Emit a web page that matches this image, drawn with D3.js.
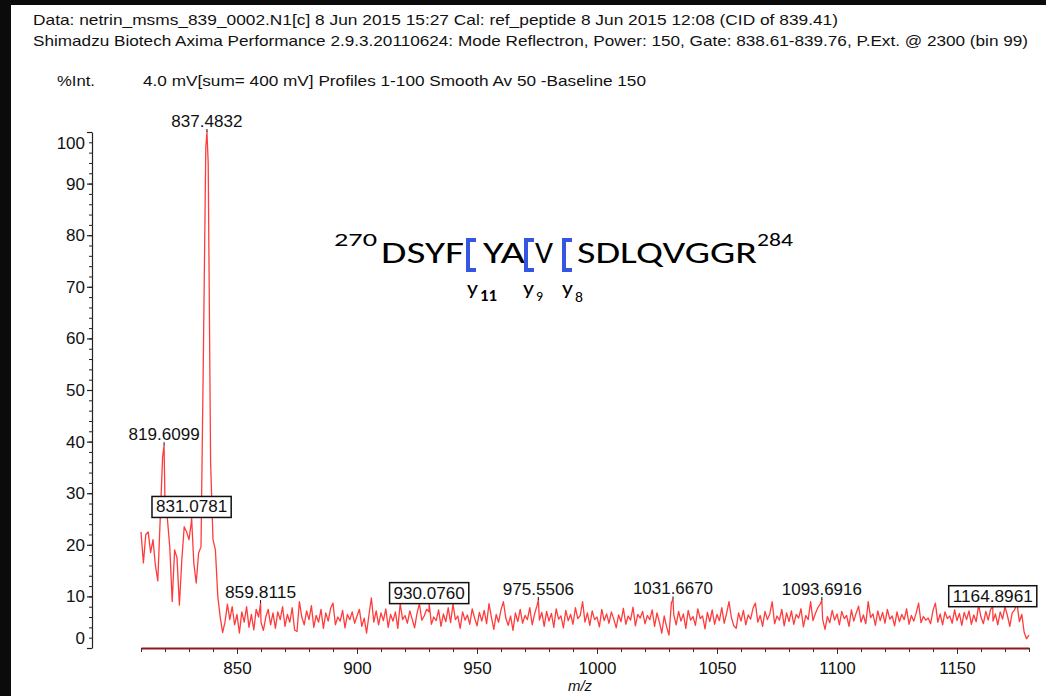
<!DOCTYPE html>
<html>
<head>
<meta charset="utf-8">
<script src="https://cdn.jsdelivr.net/npm/d3@7"></script>
<style>
  html, body { margin: 0; padding: 0; background: #fff; }
  svg { display: block; }
  text { font-family: "Liberation Sans", Arial, sans-serif; fill: #111; }
  .hdr { font-family: "Liberation Sans Narrow", "Liberation Sans", Arial, sans-serif; font-size: 15px; }
  .pep { font-family: Carlito, Lato, "Open Sans", sans-serif; fill: #000; }
</style>
</head>
<body>
<svg id="chart" width="1046" height="696"></svg>
<script>
// Profile spectrum: intensity (%Int.) sampled every 1 m/z from 810 to 1180
const mzStart = 810;
const mzStep = 1;
const intensity = [
  22.5, 16.5, 22, 22.5, 18.5, 21, 16, 13, 25, 37,          // 810-819
  28, 25, 19.5, 9, 19, 17.5, 8.3, 17, 23.5, 22.5,          // 820-829
  21, 24.5, 16.5, 12.6, 18.4, 19.6, 57, 97, 94, 36,        // 830-839
  21, 19, 10, 6, 3, 5, 8.5, 5.5, 8, 4.5,                   // 840-849
  6.5, 2.9, 7, 5, 8, 4, 6.5, 3.5, 7.5, 6,                  // 850-859
  5, 3.4, 6, 7.5, 4.5, 6.8, 3.8, 7, 5.5, 8,                // 860-869
  4.2, 6.5, 5, 7.8, 3.5, 3.2, 9, 6, 4.5, 7.2,              // 870-879
  5.5, 8.2, 4, 6.3, 5, 7.5, 3.8, 6.8, 5.2, 7.7,            // 880-889
  8.7, 4.5, 6, 5.2, 7.3, 3.9, 6.5, 5.5, 7, 4.8,            // 890-899
  6.2, 7.5, 4.2, 5.8, 2.9, 6.5, 9.7, 5, 7.2, 4.5,          // 900-909
  6.8, 5.3, 7.6, 4, 6.5, 5.2, 7, 3.8, 8.6, 5.5,            // 910-919
  6.3, 4.8, 7.2, 5.6, 3.9, 6.7, 8.6, 5.4, 6.2, 7.5,        // 920-929
  7, 4.6, 6, 5.3, 7.4, 4.2, 6.6, 5.1, 7.8, 4.9,            // 930-939
  8.5, 5.5, 6.2, 3.8, 7, 5.4, 6.4, 4.6, 7.6, 5.8,          // 940-949
  4.3, 6.9, 5.2, 7.3, 4.7, 8.6, 6, 3.6, 6.5, 5,            // 950-959
  7.4, 9, 5.8, 4.4, 6.2, 3.4, 6.8, 5.1, 7.5, 4.8,          // 960-969
  6.3, 5.5, 7.8, 4.5, 6.6, 8.2, 5.4, 6.9, 4.2, 7.1,        // 970-979
  5.2, 6.7, 4, 7.6, 5.6, 6.2, 3.9, 7.3, 5.3, 6.5,          // 980-989
  4.6, 7.8, 5.7, 6.3, 9, 5, 6.8, 4.4, 7.2, 5.5,            // 990-999
  6, 4.1, 7.5, 5.3, 6.6, 4.8, 7, 5.6, 3.9, 6.4,            // 1000-1009
  5.1, 7.7, 4.6, 6.2, 5.4, 7.9, 4.3, 6.5, 5.8, 7.1,        // 1010-1019
  4.7, 6.3, 5.5, 7.4, 4.2, 6.8, 5, 2.9, 6.2, 4.1,          // 1020-1029
  2.5, 8.8, 6.4, 4.5, 7.1, 5.2, 6.6, 3.8, 7.3, 5.4,        // 1030-1039
  6.1, 4.4, 7.6, 5.7, 6.2, 3.7, 6.9, 5.1, 7.4, 4.6,        // 1040-1049
  6.5, 5.3, 7.8, 4.8, 6.7, 9, 5.9, 4.3, 3.8, 6.8,          // 1050-1059
  5.2, 7.3, 4.5, 6.4, 5.6, 7.7, 8.7, 5, 6.3, 4.2,          // 1060-1069
  7.1, 5.5, 6.6, 9, 4.7, 6.2, 5.4, 7.5, 4.3, 6.8,          // 1070-1079
  5.1, 7.2, 4.6, 6.5, 5.8, 7.6, 4.1, 6.3, 5.5, 9,          // 1080-1089
  5.3, 6.7, 7.8, 8.5, 5.6, 3.6, 6.1, 4.9, 7.3, 5.4,        // 1090-1099
  6.6, 4.5, 7.1, 5.7, 6.3, 4.2, 7.4, 5.2, 6.8, 8.1,        // 1100-1109
  5, 6.4, 4.7, 9, 5.9, 6.6, 4.4, 7.2, 5.3, 6.9,            // 1110-1119
  4.8, 7.5, 5.6, 6.2, 4.3, 7, 5.1, 6.5, 5.5, 7.6,          // 1120-1129
  4.6, 6.3, 5.2, 6.8, 8.7, 4.9, 6.1, 5.4, 5.8, 4.7,        // 1130-1139
  7.3, 8.7, 5, 6.6, 4.5, 7, 5.7, 6.2, 4.8, 7.4,            // 1140-1149
  5.3, 6.7, 4.4, 6.9, 5.5, 7.2, 4.6, 6.4, 5.1, 8.3,        // 1150-1159
  6, 4.7, 7.1, 5.4, 7.5, 5.2, 6.6, 4.5, 7, 5.6,            // 1160-1169
  8, 6.3, 4.2, 6.8, 7.4, 8.7, 5.1, 6.5, 3, 1.8,            // 1170-1179
  2.5                                                      // 1180
];

// Labelled peak apexes (m/z, %Int.) and whether the label is framed
const peakMz  = [819.6099, 831.0781, 837.4832, 859.8115, 930.0760, 975.5506, 1031.6670, 1093.6916, 1164.8961];
const peakInt = [39.3, 25.3, 100, 8.7, 8.6, 9.3, 9.4, 9.3, 8.0];
const peakBoxed = [false, true, false, false, true, false, false, false, true];

// Axis ticks
const xMajorTicks = [850, 900, 950, 1000, 1050, 1100, 1150];
const yMajorTicks = [0, 10, 20, 30, 40, 50, 60, 70, 80, 90, 100];

// Header lines
const headerLines = [
  "Data: netrin_msms_839_0002.N1[c] 8 Jun 2015 15:27 Cal: ref_peptide 8 Jun 2015 12:08 (CID of  839.41)",
  "Shimadzu Biotech Axima Performance 2.9.3.20110624: Mode Reflectron, Power: 150, Gate: 838.61-839.76, P.Ext. @ 2300 (bin 99)"
];
const yTitle = "%Int.";
const acqInfo = "4.0 mV[sum= 400 mV]  Profiles 1-100 Smooth Av 50 -Baseline 150";
const xTitle = "m/z";

const svg = d3.select("#chart");

// page frame edges (dark left bar, thin top rule)
svg.append("rect").attr("x", 0).attr("y", 0).attr("width", 1046).attr("height", 5)
  .attr("fill", "#0b0b0b");
svg.append("rect").attr("x", 0).attr("y", 0).attr("width", 11).attr("height", 696)
  .attr("fill", "#0b0b0b");

// header
svg.append("text").attr("class", "hdr").attr("x", 33).attr("y", 25)
  .attr("textLength", 805).attr("lengthAdjust", "spacingAndGlyphs").text(headerLines[0]);
svg.append("text").attr("class", "hdr").attr("x", 33).attr("y", 46)
  .attr("textLength", 995).attr("lengthAdjust", "spacingAndGlyphs").text(headerLines[1]);
svg.append("text").attr("class", "hdr").attr("x", 57).attr("y", 86)
  .attr("textLength", 38).attr("lengthAdjust", "spacingAndGlyphs").text(yTitle);
svg.append("text").attr("class", "hdr").attr("x", 143).attr("y", 86)
  .attr("textLength", 503).attr("lengthAdjust", "spacingAndGlyphs").text(acqInfo);

// scales
const x = d3.scaleLinear().domain([810, 1180]).range([141, 1029]);
const y = d3.scaleLinear().domain([0, 100]).range([648, 132]);

// y axis (offset to the left of the x axis start)
const yAxisX = 92;
const yMinor = svg.append("g").attr("transform", `translate(${yAxisX},0)`)
  .call(d3.axisLeft(y).tickValues(d3.range(0, 101, 2)).tickSize(3).tickFormat(""));
yMinor.select(".domain").remove();
yMinor.selectAll("line").attr("stroke", "#222");
const yMajor = svg.append("g").attr("transform", `translate(${yAxisX},0)`)
  .call(d3.axisLeft(y).tickValues(yMajorTicks).tickSize(5).tickSizeOuter(0).tickPadding(2));
yMajor.select(".domain").attr("stroke", "#222").attr("stroke-width", 1.2);
yMajor.selectAll("line").attr("stroke", "#222").attr("stroke-width", 1.2);
yMajor.selectAll("text")
  .attr("font-family", "Liberation Sans, Arial, sans-serif")
  .attr("font-size", 17).attr("fill", "#111")
  .attr("dy", d => d === 0 ? "-0.28em" : "0.32em")
  .attr("y", d => d === 100 ? 11 : 0);

// x axis
const xMinor = svg.append("g").attr("transform", "translate(0,648)")
  .call(d3.axisBottom(x).tickValues(d3.range(810, 1181, 10)).tickSize(4).tickFormat(""));
xMinor.select(".domain").remove();
xMinor.selectAll("line").attr("stroke", "#333");
const xMajor = svg.append("g").attr("transform", "translate(0,648)")
  .call(d3.axisBottom(x).tickValues(xMajorTicks).tickSize(6).tickSizeOuter(0)
    .tickPadding(8).tickFormat(d3.format("d")));
xMajor.select(".domain").attr("stroke", "#8e1b1b").attr("stroke-width", 2);
xMajor.selectAll("line").attr("stroke", "#333");
xMajor.selectAll("text")
  .attr("font-family", "Liberation Sans, Arial, sans-serif")
  .attr("font-size", 17).attr("fill", "#111");

svg.append("text").attr("x", 580).attr("y", 691).attr("text-anchor", "middle")
  .attr("font-size", 15).attr("font-style", "italic").text(xTitle);

// spectrum trace: profile samples plus the labelled apexes
const profile = intensity.map((v, i) => ({ mz: mzStart + i * mzStep, v }))
  .concat(peakMz.map((m, i) => ({ mz: m, v: peakInt[i] })))
  .sort((a, b) => a.mz - b.mz);

svg.append("path").datum(profile)
  .attr("fill", "none").attr("stroke", "#ff3c3c").attr("stroke-width", 1.3)
  .attr("stroke-linejoin", "round")
  .attr("d", d3.line().x(d => x(d.mz)).y(d => y(d.v)));

// peak labels
const peaks = peakMz.map((m, i) => ({ mz: m, v: peakInt[i], boxed: peakBoxed[i] }));
const pg = svg.append("g");
peaks.forEach(p => {
  const px = x(p.mz), py = y(p.v);
  pg.append("line").attr("x1", px).attr("x2", px).attr("y1", py - 3).attr("y2", py)
    .attr("stroke", "#111").attr("stroke-width", 1);
  const label = p.mz.toFixed(4);
  const w = label.length * 8.9;
  const base = py - 5;
  if (p.boxed) {
    pg.append("rect").attr("x", px - w / 2 - 4).attr("y", base - 16)
      .attr("width", w + 8).attr("height", 21)
      .attr("fill", "#fff").attr("stroke", "#111").attr("stroke-width", 1.5);
  }
  pg.append("text").attr("x", px).attr("y", base).attr("text-anchor", "middle")
    .attr("font-size", 17).attr("textLength", w).attr("lengthAdjust", "spacingAndGlyphs")
    .text(label);
});

// peptide sequence with y-ion cleavage marks
const pep = svg.append("g");
function seg(txt, xx, yy, size, len, weight) {
  pep.append("text").attr("class", "pep").attr("x", xx).attr("y", yy)
    .attr("font-size", size).attr("font-weight", weight || "normal")
    .attr("textLength", len).attr("lengthAdjust", "spacingAndGlyphs").text(txt);
}
function bracket(xl) {
  pep.append("path")
    .attr("d", `M${xl + 10},240 H${xl + 2} V270 H${xl + 10}`)
    .attr("fill", "none").attr("stroke", "#3556e0").attr("stroke-width", 4)
    .attr("stroke-linejoin", "miter");
}
seg("270", 334, 246, 19, 43);
seg("DSYF", 381, 263, 30, 83);
bracket(466);
seg("YA", 483, 263, 30, 42);
bracket(524);
seg("V", 535, 263, 30, 18);
bracket(562);
seg("SDLQVGGR", 577, 263, 30, 180);
seg("284", 757, 246, 19, 36);
seg("y", 467, 295, 21, 11);
seg("11", 480, 301, 15, 17, "bold");
seg("y", 523, 295, 21, 11);
seg("9", 536, 301, 14, 7);
seg("y", 562, 295, 21, 11);
seg("8", 575, 302, 14, 8);
</script>
</body>
</html>
